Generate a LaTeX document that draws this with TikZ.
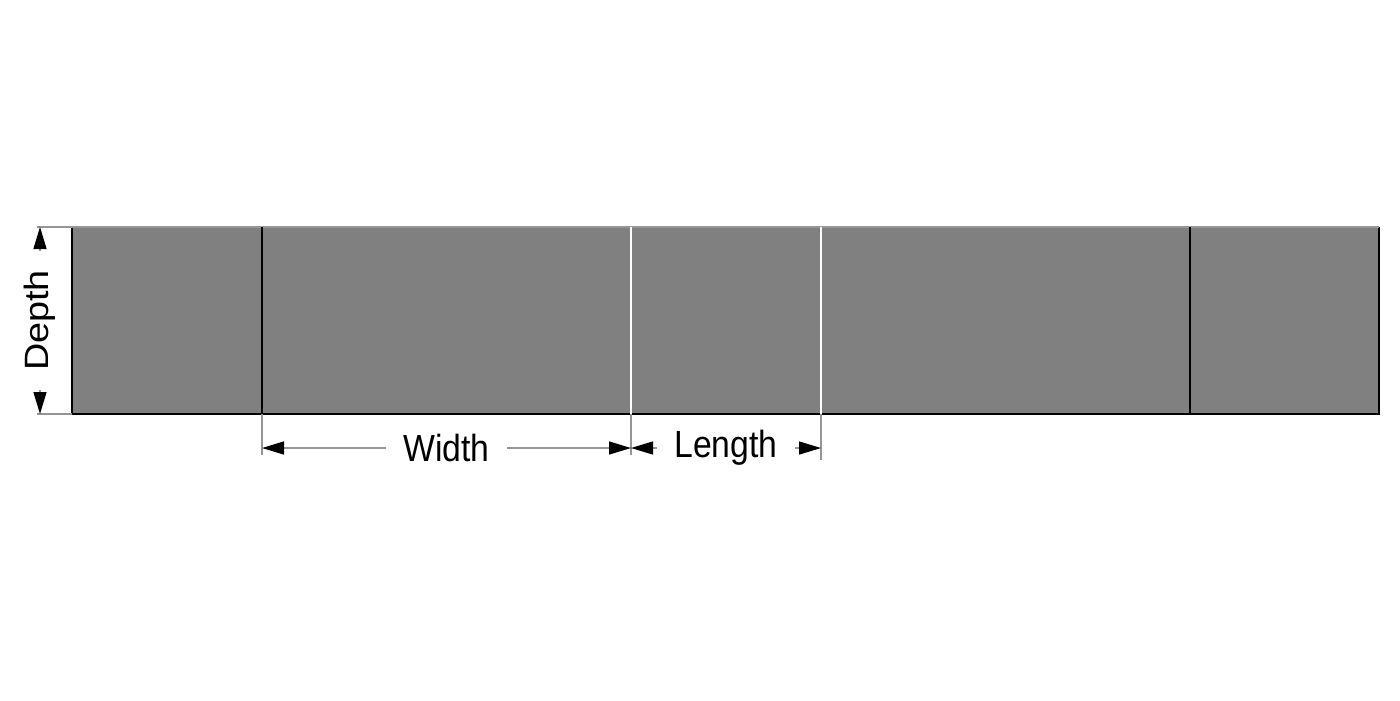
\documentclass[tikz,border=0pt]{standalone}
\usepackage{fontspec}
\setmainfont{Liberation Sans}
\usetikzlibrary{arrows.meta, positioning}
\usepackage{xcolor}
\definecolor{stripgray}{RGB}{128, 128, 128}
\definecolor{dimgray}{RGB}{150, 150, 150}

\begin{document}
\begin{tikzpicture}[
        dimline/.style={draw=dimgray, line width=0.4pt, {Triangle[length=2.2mm, width=1.3mm, black]}-{Triangle[length=2.2mm, width=1.3mm, black]}},
        extline/.style={draw=dimgray, line width=0.4pt},
        dimlabel/.style={fill=white, inner xsep=1.7mm, inner ysep=0.5mm, font=\fontsize{9.6}{11}\selectfont, yscale=1.12}
    ]
        \useasboundingbox (0, 0) rectangle (14, 7);

        % Define the corners of the strip
        \coordinate (SW) at (0.72, 2.86);
        \coordinate (NE) at (13.79, 4.73);
        \coordinate (SE) at (13.79, 2.86);
        \coordinate (NW) at (0.72, 4.73);

        % Draw the strip
        \fill[stripgray] (SW) rectangle (NE);
        \draw[black, line width=0.6pt] (NW) -- (SW) -- (SE) -- (NE);
        \draw[dimgray, line width=0.4pt] (NW) -- (NE);

        % Draw the joints
        \foreach \x/\c in {2.62/black, 6.31/white, 8.21/white, 11.90/black} {
            \draw[\c, line width=0.6pt] (\x, 2.86) -- (\x, 4.73);
        }

        % Define the dimension points
        \coordinate (A) at (2.62, 2.52);
        \coordinate (B) at (6.31, 2.52);
        \coordinate (C) at (8.21, 2.52);
        \coordinate (DT) at (0.40, 4.73);
        \coordinate (DB) at (0.40, 2.86);

        % Draw extension lines
        \draw[extline] (2.62, 2.86) -- (2.62, 2.45);
        \draw[extline] (6.31, 2.86) -- (6.31, 2.45);
        \draw[extline] (8.21, 2.86) -- (8.21, 2.40);
        \draw[extline] (SW) -- (0.37, 2.86);
        \draw[extline] (NW) -- (0.37, 4.73);

        % Draw dimension lines
        \draw[dimline] (A) -- (B) node[midway, dimlabel] (width) {Width};
        \draw[dimline] (B) -- (C) node[midway, dimlabel] (length) {Length};
        \draw[dimline] (DT) -- (DB) node[midway, dimlabel, rotate=90] (depth) {Depth};
    \end{tikzpicture}
\end{document}
